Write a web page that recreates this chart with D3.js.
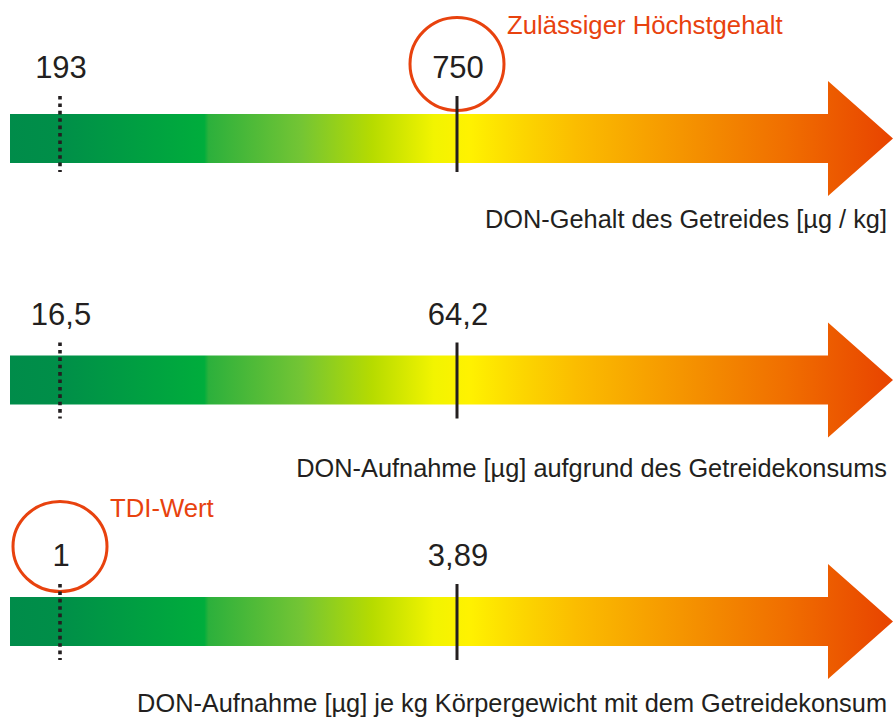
<!DOCTYPE html>
<html>
<head>
<meta charset="utf-8">
<script src="https://cdn.jsdelivr.net/npm/d3@7"></script>
<style>
  html, body { margin: 0; padding: 0; background: #ffffff; }
  svg { display: block; }
  text { font-family: "Liberation Sans", Arial, Helvetica, sans-serif; }
</style>
</head>
<body>
<svg id="chart" width="893" height="718"></svg>
<script>
// ---- data ----
const rowTitles = [
  "DON-Gehalt des Getreides [µg / kg]",
  "DON-Aufnahme [µg] aufgrund des Getreidekonsums",
  "DON-Aufnahme [µg] je kg Körpergewicht mit dem Getreidekonsum"
];
const lowValues  = [193, 16.5, 1];      // dotted marker
const highValues = [750, 64.2, 3.89];   // solid marker
// which marker is circled in each row, and the note written beside it
const circledMarker = ["high", null, "low"];
const circleNotes   = ["Zulässiger Höchstgehalt", null, "TDI-Wert"];

// gradient colour stops (offset along the arrow, colour)
const gradOffsets = [0, 0.06, 0.22, 0.225, 0.33, 0.41, 0.48, 0.52, 0.58, 0.64, 0.72, 0.80, 0.88, 0.94, 1];
const gradColors  = ["#008c4a", "#008f48", "#00ad3c", "#2cb03c", "#74c534", "#b6db00", "#f2f400", "#fff200",
                     "#fcd600", "#fbbd00", "#f7a200", "#f38800", "#f06e00", "#ec5800", "#e84300"];

// ---- layout ----
const W = 893, H = 718;
const svg = d3.select("#chart");
const arrowLeft = 10, headStart = 828, arrowTip = 893;
const barH = 49, headOver = 33;
const rowIdx = d3.range(rowTitles.length);
const rowY = d3.scalePoint().domain(rowIdx).range([114, 597]);   // bar top
const rowLift = [5, 0, 0];
const titleOffset = [114, 121.5, 115];
const markerX = [60, 457];
const orange = "#e8420e";
const ink = "#231f20";
const fmt = d3.formatLocale({decimal: ",", thousands: ".", grouping: [3], currency: ["", " €"]}).format("~g");

const defs = svg.append("defs");
rowIdx.forEach(i => {
  const g = defs.append("linearGradient")
    .attr("id", "grad" + i)
    .attr("gradientUnits", "userSpaceOnUse")
    .attr("x1", arrowLeft).attr("x2", arrowTip)
    .attr("y1", 0).attr("y2", 0);
  g.selectAll("stop").data(gradOffsets).join("stop")
    .attr("offset", d => d)
    .attr("stop-color", (d, k) => gradColors[k]);
});

rowIdx.forEach(i => {
  const top = rowY(i);
  const bot = top + barH;
  const mid = top + barH / 2;
  const lift = rowLift[i];
  const x = d3.scaleLinear().domain([lowValues[i], highValues[i]]).range(markerX);
  const g = svg.append("g");

  // arrow body + head
  const pts = [
    [arrowLeft, top], [headStart, top], [headStart, top - headOver],
    [arrowTip, mid], [headStart, bot + headOver], [headStart, bot], [arrowLeft, bot]
  ];
  g.append("path")
    .attr("d", d3.line()(pts) + "Z")
    .attr("fill", `url(#grad${i})`);

  const markers = [
    {key: "low", v: lowValues[i], dotted: true},
    {key: "high", v: highValues[i], dotted: false}
  ];

  // circle highlight
  markers.filter(m => m.key === circledMarker[i]).forEach(m => {
    const labelBase = top - 31 - lift;
    const cy = m.key === "high" ? labelBase - 14 : labelBase - 19.5;
    g.append("ellipse")
      .attr("cx", x(m.v)).attr("cy", cy)
      .attr("rx", 47).attr("ry", m.key === "high" ? 46.5 : 45)
      .attr("fill", "none")
      .attr("stroke", orange).attr("stroke-width", 3);
    g.append("text")
      .attr("x", x(m.v) + 50).attr("y", cy - 30)
      .attr("font-size", 25.7)
      .attr("fill", orange)
      .text(circleNotes[i]);
  });

  // marker lines
  g.selectAll("line.marker").data(markers).join("line")
    .attr("class", "marker")
    .attr("x1", d => x(d.v)).attr("x2", d => x(d.v))
    .attr("y1", top - 13 - lift).attr("y2", bot + 14 - lift)
    .attr("stroke", ink)
    .attr("stroke-width", d => d.dotted ? 3.6 : 3)
    .attr("stroke-dasharray", d => d.dotted ? "3.6,3.8" : null);

  // value labels
  g.selectAll("text.val").data(markers).join("text")
    .attr("class", "val")
    .attr("x", d => x(d.v) + 1)
    .attr("y", top - 31 - lift)
    .attr("text-anchor", "middle")
    .attr("font-size", 31)
    .attr("fill", ink)
    .text(d => fmt(d.v));

  // row title
  g.append("text")
    .attr("x", 887)
    .attr("y", top + titleOffset[i])
    .attr("text-anchor", "end")
    .attr("font-size", 25.35)
    .attr("fill", ink)
    .text(rowTitles[i]);
});
</script>
</body>
</html>
